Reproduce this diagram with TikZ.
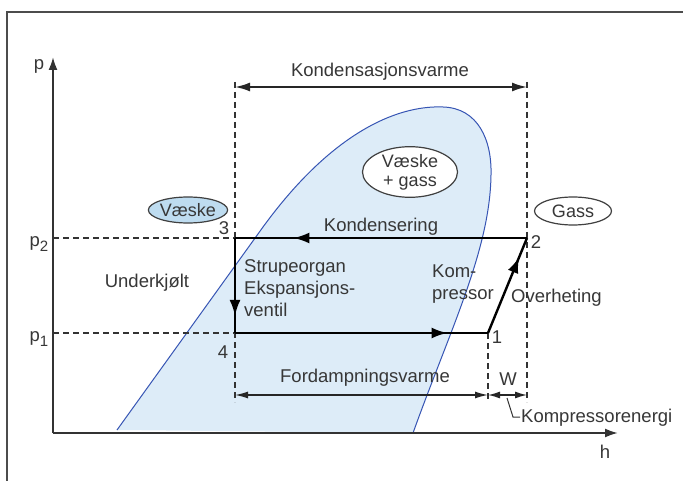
\documentclass[tikz,border=0pt]{standalone}
\usepackage{fontspec}
\setmainfont{Liberation Sans}
\usetikzlibrary{arrows.meta,decorations.markings,shapes.geometric}
\definecolor{fillblue}{RGB}{221,236,248}
\definecolor{curveblue}{RGB}{55,85,180}
\definecolor{txt}{RGB}{55,55,55}
\definecolor{ovalblue}{RGB}{190,220,240}
\newcommand{\psub}[1]{p\raisebox{-5pt}{\fontsize{15}{15}\selectfont #1}}
\begin{document}
\begin{tikzpicture}[x=1pt,y=-1pt,
  lbl/.style={text=txt,font=\fontsize{18.5}{22}\selectfont,inner sep=1pt},
  cyc/.style={line width=2.4pt,black},
  dashln/.style={line width=1.1pt,dash pattern=on 6pt off 4pt,black!80},
  midarrow/.style={postaction={decorate},decoration={markings,mark=at position #1 with {\arrow{Latex[length=16pt,width=11pt]}}}},
  oval/.style={ellipse,draw=black!75,line width=1.2pt,text=txt,font=\fontsize{18}{19}\selectfont,inner sep=0pt}
]
\useasboundingbox (0,0) rectangle (683,481);
\fill[white] (0,0) rectangle (683,481);
% frame
\draw[line width=1.5pt,black!70] (7,495) -- (7,12) -- (695,12);
% two-phase region
\fill[fillblue] (117,430) -- (263,227) .. controls (330,135) and (395,105) .. (443,107)
  .. controls (478,108) and (492,140) .. (491,175)
  .. controls (490,250) and (450,330) .. (413,433) -- cycle;
\draw[curveblue,line width=1pt] (117,430) -- (263,227) .. controls (330,135) and (395,105) .. (443,107)
  .. controls (478,108) and (492,140) .. (491,175)
  .. controls (490,250) and (450,330) .. (413,433);
% axes
\coordinate (O) at (53,433);
\coordinate (ptop) at (53,57);
\coordinate (hend) at (618,433);
\draw[line width=2pt,black!80,-{Latex[length=13pt,width=9pt]}] (O) -- (ptop);
\draw[line width=2pt,black!80,-{Latex[length=13pt,width=9pt]}] (O) -- (hend);
\node[lbl] at (39,66) {p};
\node[lbl] at (605,452) {h};
% points
\coordinate (P3) at (235,238);
\coordinate (P2) at (527,238);
\coordinate (P4) at (235,333);
\coordinate (P1) at (488,333);
\coordinate (a2) at (53,238);
\coordinate (a1) at (53,333);
\coordinate (t3) at (235,82);
\coordinate (t2) at (527,82);
\coordinate (b3) at (235,402);
\coordinate (b2) at (527,402);
\coordinate (b1) at (488,402);
% dashed lines
\draw[dashln] (a2) -- (P3);
\draw[dashln] (a1) -- (P4);
\draw[dashln] (t3) -- (b3);
\draw[dashln] (t2) -- (b2);
\draw[dashln] (P1) -- (b1);
% cycle
\draw[cyc,midarrow=0.80] (P2) -- (P3);
\draw[cyc,midarrow=0.82] (P3) -- (P4);
\draw[cyc,midarrow=0.84] (P4) -- (P1);
\draw[cyc,midarrow=0.80] (P1) -- (P2);
% dimension arrows
\coordinate (k3) at (235,87);
\coordinate (k2) at (527,87);
\draw[line width=2pt,black!85,{Latex[length=15pt,width=9pt]}-{Latex[length=15pt,width=9pt]}] (k3) -- (k2);
\coordinate (f4) at (235,395);
\coordinate (f1) at (488,395);
\coordinate (f2) at (527,395);
\draw[line width=1.4pt,black!85,{Latex[length=13pt,width=7pt]}-{Latex[length=13pt,width=7pt]}] (f4) -- (f1);
\draw[line width=1.4pt,black!85,{Latex[length=12pt,width=7pt]}-{Latex[length=12pt,width=7pt]}] (f1) -- (f2);
\coordinate (lk1) at (507,398);
\coordinate (lk2) at (513,417);
\draw[line width=1pt,black!80] (lk1) -- (lk2) -- ++(7,0);
% labels
\node[lbl] at (380,72) {Kondensasjonsvarme};
\node[lbl] at (381,227) {Kondensering};
\node[lbl] at (147,283) {Underkjølt};
\node[lbl,anchor=north west,align=left] at (243,258) {Strupeorgan\\Ekspansjons-\\ventil};
\node[lbl,anchor=north west,align=left] at (431,264) {Kom-\\pressor};
\node[lbl,anchor=west] at (510,298) {Overheting};
\node[lbl] at (365,378) {Fordampningsvarme};
\node[lbl] at (508,379) {W};
\node[lbl,anchor=west] at (520,418) {Kompressorenergi};
\node[lbl] at (39,244) {\psub{2}};
\node[lbl] at (39,339) {\psub{1}};
\node[lbl] at (224,228) {3};
\node[lbl] at (223,352) {4};
\node[lbl] at (536,242) {2};
\node[lbl] at (497,337) {1};
% ovals
\node[oval,fill=ovalblue,minimum width=78pt,minimum height=26pt] (vaeske) at (188,210) {Væske};
\node[oval,fill=white,minimum width=95pt,minimum height=47pt,align=center,font=\fontsize{18}{19}\selectfont] (vg) at (410,172) {Væske\\+ gass};
\node[oval,fill=white,minimum width=77pt,minimum height=28pt] (gass) at (573,211) {Gass};
\end{tikzpicture}
\end{document}
